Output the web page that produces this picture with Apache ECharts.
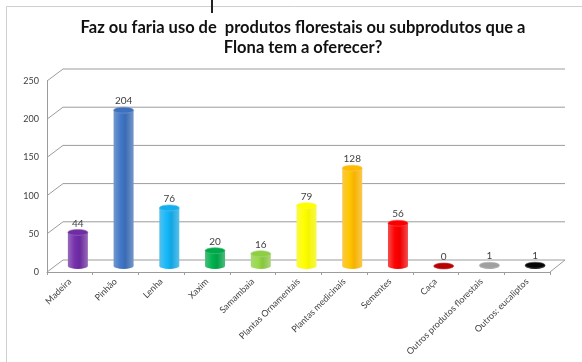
<!DOCTYPE html>
<html>
<head>
<meta charset="utf-8">
<script src="https://cdn.jsdelivr.net/npm/echarts@6/dist/echarts.min.js"></script>
<style>
html,body{margin:0;padding:0;background:#fff;}
#chart{width:582px;height:362px;}
</style>
</head>
<body>
<div id="chart"></div>
<script>
const titleText = 'Faz ou faria uso de  produtos florestais ou subprodutos que a\nFlona tem a oferecer?';
const categories = ['Madeira', 'Pinhão', 'Lenha', 'Xaxim', 'Samambaia', 'Plantas Ornamentais', 'Plantas medicinais', 'Sementes', 'Caça', 'Outros produtos florestais', 'Outros: eucaliptos'];
const values = [44, 204, 76, 20, 16, 79, 128, 56, 0, 1, 1];
const yTicks = [0, 50, 100, 150, 200, 250];
const barColors = ['#6a2a9c', '#3b6cb4', '#13a6e2', '#00a046', '#88c540', '#f5f500', '#f7b200', '#f00000', '#b00000', '#989898', '#050505'];

const DX = 16, DY = -12; // depth offset of the back wall
const FONT = 'Lato, "Liberation Sans", sans-serif';

const chart = echarts.init(document.getElementById('chart'), null, {renderer: 'canvas'});

function wallItem(params, api) {
  const cs = params.coordSys;
  const v = api.value(1);
  const y = api.coord([0, v])[1];
  const x0 = cs.x, x1 = cs.x + cs.width;
  const style = {stroke: '#9c9c9c', lineWidth: 1, fill: null};
  const children = [{
    type: 'polyline',
    shape: {points: [[x0, y], [x0 + DX, y + DY], [x1 + DX - 1, y + DY]]},
    style: style
  }];
  if (v === 0) {
    children.push({type: 'line', shape: {x1: x1, y1: y, x2: x1 + DX - 1, y2: y + DY}, style: style});
  }
  return {type: 'group', children: children};
}

function cylItem(params, api) {
  const idx = api.value(0);
  const val = api.value(1);
  const top = api.coord([idx, val]);
  const base = api.coord([idx, 0]);
  const bw = 20;
  const rx = bw / 2, ry = 3;
  const cx = top[0] + DX / 2;
  const yTop = top[1] + DY / 2;
  const yBase = base[1] + DY / 2;
  const c = barColors[idx];
  const dark = echarts.color.lift(c, 0.3);
  const light = echarts.color.lift(c, -0.12);
  const grad = new echarts.graphic.LinearGradient(0, 0, 1, 0, [
    {offset: 0, color: dark},
    {offset: 0.35, color: light},
    {offset: 0.6, color: c},
    {offset: 1, color: echarts.color.lift(c, 0.3)}
  ]);
  const children = [];
  children.push({type: 'circle', shape: {cx: 0, cy: 0, r: rx}, x: cx, y: yBase, scaleY: ry / rx, style: {fill: grad}});
  if (yBase - yTop > 0.5) {
    children.push({type: 'rect', shape: {x: cx - rx, y: yTop, width: bw, height: yBase - yTop}, style: {fill: grad}});
  }
  children.push({type: 'circle', shape: {cx: 0, cy: 0, r: rx}, x: cx, y: yTop, scaleY: ry / rx,
    style: {fill: echarts.color.lift(c, -0.05), stroke: dark, lineWidth: 1}});
  children.push({type: 'text', x: cx, y: yTop - ry - 1,
    style: {text: String(val), align: 'center', verticalAlign: 'bottom', fill: '#404040', fontSize: 10, fontFamily: FONT}});
  return {type: 'group', children: children};
}

const option = {
  backgroundColor: '#fff',
  animation: false,
  title: {
    text: titleText,
    left: 298,
    top: 13,
    textAlign: 'center',
    textStyle: {fontFamily: FONT, fontSize: 16.5, fontWeight: 'bold', color: '#111', lineHeight: 20}
  },
  graphic: [
    {type: 'rect', shape: {x: 6.5, y: 6.5, width: 700, height: 500}, style: {fill: null, stroke: '#cfcfcf', lineWidth: 1}, silent: true},
    {type: 'rect', shape: {x: 211, y: 0, width: 2, height: 13}, style: {fill: '#222'}, silent: true}
  ],
  grid: {left: 47, right: 32, top: 81, bottom: 90},
  xAxis: {
    type: 'category',
    data: categories,
    axisLine: {lineStyle: {color: '#9c9c9c', width: 1}},
    axisTick: {show: true, length: 3, lineStyle: {color: '#9c9c9c'}},
    axisLabel: {rotate: 45, interval: 0, fontSize: 9, color: '#404040', fontFamily: FONT, margin: 8}
  },
  yAxis: {
    type: 'value',
    min: 0, max: 250, interval: 50,
    axisLine: {show: true, lineStyle: {color: '#9c9c9c', width: 1}},
    axisTick: {show: false},
    splitLine: {show: false},
    axisLabel: {fontSize: 9, color: '#404040', fontFamily: FONT, margin: 8}
  },
  series: [
    {
      type: 'custom',
      renderItem: wallItem,
      data: yTicks.map(v => [0, v]),
      z: 1,
      silent: true
    },
    {
      type: 'custom',
      renderItem: cylItem,
      data: values.map((v, i) => [i, v]),
      z: 3
    }
  ]
};
chart.setOption(option);
</script>
</body>
</html>
